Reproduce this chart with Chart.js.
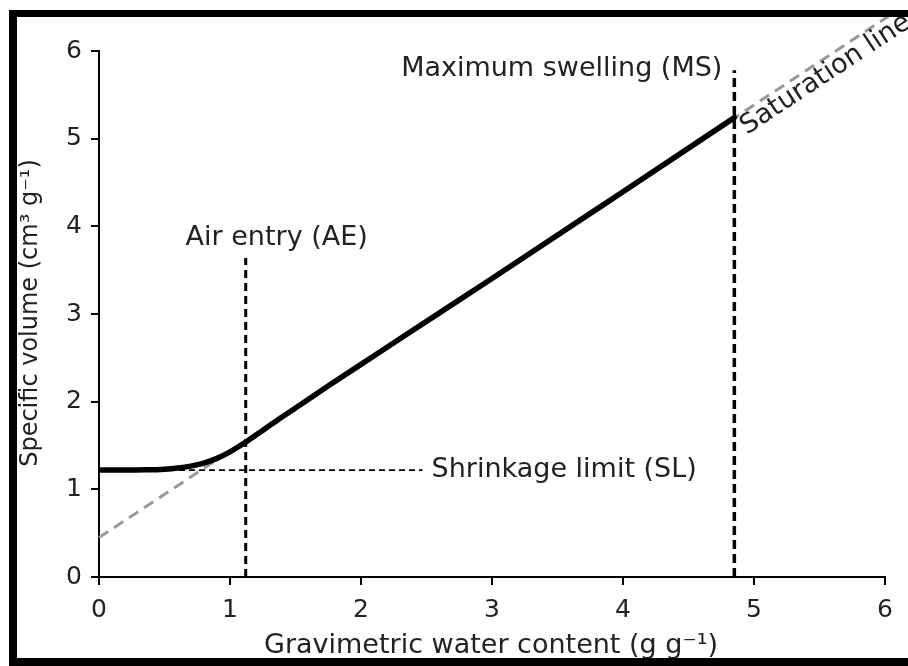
<!DOCTYPE html>
<html>
<head>
<meta charset="utf-8">
<script src="https://cdn.jsdelivr.net/npm/chart.js@4.4.1/dist/chart.umd.min.js"></script>
<style>
html,body{margin:0;padding:0;background:#fff;}
#wrap{width:908px;height:666px;position:relative;}
</style>
</head>
<body>
<div id="wrap"><canvas id="c" width="908" height="666"></canvas></div>
<script>
// ---- data ----
const xTicks = [0, 1, 2, 3, 4, 5, 6];
const yTicks = [0, 1, 2, 3, 4, 5, 6];
const curveX = [0, 0.2, 0.35, 0.5, 0.6, 0.7, 0.8, 0.9, 1.0, 1.13, 1.25, 1.38, 1.5, 1.76, 2.0, 2.3, 3.0, 4.0, 4.85];
const curveY = [1.22, 1.22, 1.222, 1.23, 1.243, 1.265, 1.30, 1.353, 1.428, 1.548, 1.672, 1.808, 1.928, 2.19, 2.425, 2.72, 3.405, 4.395, 5.24];
const saturationX = [0, 6.05];
const saturationY = [0.45, 6.42];
const airEntryX = [1.12, 1.12];
const airEntryY = [0, 3.64];
const maxSwellX = [4.85, 4.85];
const maxSwellY = [0, 5.78];
const shrinkX = [0, 2.47];
const shrinkY = [1.22, 1.22];
const labels = {
  xTitle: 'Gravimetric water content (g g\u207B\u00B9)',
  yTitle: 'Specific volume (cm\u00B3 g\u207B\u00B9)',
  ms: 'Maximum swelling (MS)',
  ae: 'Air entry (AE)',
  sl: 'Shrinkage limit (SL)',
  sat: 'Saturation line'
};

const pts = (xs, ys) => xs.map((x, i) => ({x: x, y: ys[i]}));
const FONT = '"DejaVu Sans", sans-serif';

const annot = {
  id: 'annot',
  afterDraw(chart) {
    const ctx = chart.ctx;
    const xs = chart.scales.x, ys = chart.scales.y;
    ctx.save();
    ctx.fillStyle = '#222';
    // Maximum swelling label
    ctx.font = '27px ' + FONT;
    ctx.textAlign = 'right';
    ctx.textBaseline = 'alphabetic';
    ctx.fillText(labels.ms, xs.getPixelForValue(maxSwellX[0]) - 12, ys.getPixelForValue(maxSwellY[1]) + 6);
    // Air entry label
    ctx.textAlign = 'center';
    ctx.fillText(labels.ae, xs.getPixelForValue(airEntryX[0]) + 31, ys.getPixelForValue(airEntryY[1]) - 13);
    // Shrinkage limit label
    ctx.textAlign = 'left';
    ctx.textBaseline = 'middle';
    ctx.fillText(labels.sl, xs.getPixelForValue(shrinkX[1]) + 9, ys.getPixelForValue(shrinkY[1]));
    // Saturation line label (rotated along the line)
    const x0 = xs.getPixelForValue(saturationX[0]), y0 = ys.getPixelForValue(saturationY[0]);
    const x1 = xs.getPixelForValue(saturationX[1]), y1 = ys.getPixelForValue(saturationY[1]);
    const ang = Math.atan2(y1 - y0, x1 - x0);
    ctx.save();
    ctx.translate(747, 135);
    ctx.rotate(ang);
    ctx.textAlign = 'left';
    ctx.textBaseline = 'alphabetic';
    ctx.fillText(labels.sat, 0, 0);
    ctx.restore();
    // axis titles
    ctx.textAlign = 'center';
    ctx.textBaseline = 'alphabetic';
    ctx.fillText(labels.xTitle, 491, 653);
    ctx.save();
    ctx.translate(31, 313);
    ctx.rotate(-Math.PI / 2);
    ctx.font = '24px ' + FONT;
    ctx.textBaseline = 'middle';
    ctx.fillText(labels.yTitle, 0, 0);
    ctx.restore();
    // frame
    ctx.fillStyle = '#000';
    ctx.fillRect(9, 10, 899, 7);
    ctx.fillRect(9, 10, 8, 656);
    ctx.fillRect(9, 658, 899, 8);
    ctx.restore();
  }
};

new Chart(document.getElementById('c'), {
  type: 'line',
  data: {
    datasets: [
      {data: pts(curveX, curveY), borderColor: '#000', borderWidth: 5.5, cubicInterpolationMode: 'monotone', pointRadius: 0, borderCapStyle: 'round', borderJoinStyle: 'round'},
      {data: pts(maxSwellX, maxSwellY), borderColor: '#000', borderWidth: 3.5, borderDash: [9, 5], pointRadius: 0},
      {data: pts(airEntryX, airEntryY), borderColor: '#000', borderWidth: 3, borderDash: [8, 5], pointRadius: 0},
      {data: pts(shrinkX, shrinkY), borderColor: '#000', borderWidth: 1.8, borderDash: [6, 4], pointRadius: 0},
      {data: pts(saturationX, saturationY), borderColor: '#999', borderWidth: 3, borderDash: [11, 7], pointRadius: 0, clip: false}
    ]
  },
  options: {
    responsive: false,
    animation: false,
    events: [],
    layout: {padding: {left: 0, top: 51, right: 23, bottom: 0}},
    plugins: {legend: {display: false}, tooltip: {enabled: false}, title: {display: false}},
    scales: {
      x: {
        type: 'linear', min: 0, max: 6,
        afterFit(s) { s.height = 89; },
        afterBuildTicks(s) { s.ticks = xTicks.map(v => ({value: v})); },
        grid: {drawOnChartArea: false, drawTicks: true, tickLength: 8, color: '#000', lineWidth: 2},
        border: {display: true, color: '#000', width: 2},
        ticks: {color: '#222', font: {family: FONT, size: 25}, padding: 10, maxRotation: 0}
      },
      y: {
        type: 'linear', min: 0, max: 6,
        afterFit(s) { s.width = 99; },
        afterBuildTicks(s) { s.ticks = yTicks.map(v => ({value: v})); },
        grid: {drawOnChartArea: false, drawTicks: true, tickLength: 8, color: '#000', lineWidth: 2},
        border: {display: true, color: '#000', width: 2},
        ticks: {color: '#222', font: {family: FONT, size: 25}, padding: 9}
      }
    }
  },
  plugins: [annot]
});
</script>
</body>
</html>
